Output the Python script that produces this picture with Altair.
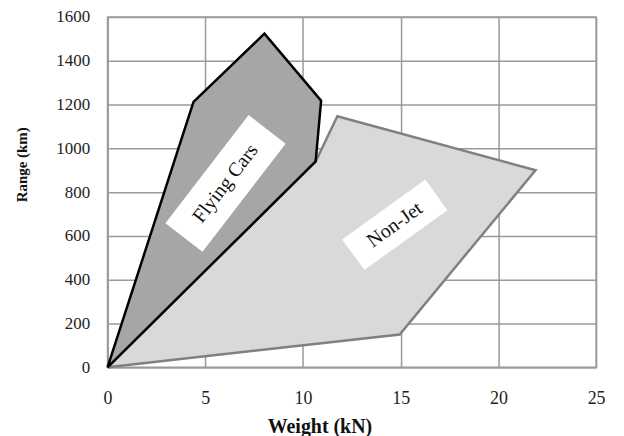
import altair as alt
import pandas as pd

# Envelope polygons (Weight kN, Range km), closed
flying_x = [0, 4.4, 8.03, 10.93, 10.65, 0]
flying_y = [0, 1212, 1524, 1218, 940, 0]
nonjet_x = [0, 14.95, 21.9, 11.76, 10.65, 0]
nonjet_y = [0, 150, 900, 1147, 940, 0]

x_ticks = [0, 5, 10, 15, 20, 25]
y_ticks = [0, 200, 400, 600, 800, 1000, 1200, 1400, 1600]

labels = ["Flying Cars", "Non-Jet"]
label_x = [6.04, 14.7]
label_y = [840, 651]

FONT = "Liberation Serif"

fc = pd.DataFrame({"w": flying_x, "r": flying_y, "i": range(len(flying_x))})
nj = pd.DataFrame({"w": nonjet_x, "r": nonjet_y, "i": range(len(nonjet_x))})

xs = alt.Scale(domain=[0, 25], nice=False)
ys = alt.Scale(domain=[0, 1600], nice=False)

xaxis = alt.Axis(values=x_ticks, title="Weight (kN)", ticks=False, labelPadding=22, format="d",
                 labelFontSize=18, labelFont=FONT, labelColor="#222",
                 titleFont=FONT, titleFontSize=20, titleFontWeight="bold", titleColor="#111",
                 titleX=213, titleY=60, titleAlign="center", titleBaseline="middle",
                 gridColor="#9a9a9a", gridWidth=1.5, domainColor="#9a9a9a", domainWidth=1.5,
                 labelFlush=False)
yaxis = alt.Axis(values=y_ticks, title="Range (km)", ticks=False, labelPadding=18, format="d",
                 labelFontSize=17, labelFont=FONT, labelColor="#222",
                 titleFont=FONT, titleFontSize=15, titleFontWeight="bold", titleColor="#111",
                 titleX=-86, titleY=148, titleAlign="center", titleBaseline="middle", titleAngle=270,
                 gridColor="#9a9a9a", gridWidth=1.5, domainColor="#9a9a9a", domainWidth=1.5,
                 labelFlush=False)

nonjet = alt.Chart(nj).mark_line(fill="#d9d9d9", stroke="#808080", strokeWidth=2.5,
                                 strokeJoin="miter").encode(
    x=alt.X("w:Q", scale=xs, axis=xaxis),
    y=alt.Y("r:Q", scale=ys, axis=yaxis),
    order="i:O",
)
flying = alt.Chart(fc).mark_line(fill="#a6a6a6", stroke="#000000", strokeWidth=2.5,
                                 strokeJoin="miter").encode(
    x=alt.X("w:Q", scale=xs),
    y=alt.Y("r:Q", scale=ys),
    order="i:O",
)

lab = pd.DataFrame({"t": labels, "w": label_x, "r": label_y})
fc_lab = lab[lab.t == "Flying Cars"]
nj_lab = lab[lab.t == "Non-Jet"]

box_fc = alt.Chart(fc_lab).mark_point(
    shape="M-1,-0.343L1,-0.343L1,0.343L-1,0.343Z", size=137 * 137, angle=307.6,
    filled=True, fill="white", opacity=1, strokeWidth=0).encode(
    x=alt.X("w:Q", scale=xs), y=alt.Y("r:Q", scale=ys))
box_nj = alt.Chart(nj_lab).mark_point(
    shape="M-1,-0.369L1,-0.369L1,0.369L-1,0.369Z", size=103 * 103, angle=324.2,
    filled=True, fill="white", opacity=1, strokeWidth=0).encode(
    x=alt.X("w:Q", scale=xs), y=alt.Y("r:Q", scale=ys))

txt_fc = alt.Chart(fc_lab).mark_text(font=FONT, fontSize=20, angle=307.6, color="#111",
                                     align="center", baseline="middle").encode(
    x=alt.X("w:Q", scale=xs), y=alt.Y("r:Q", scale=ys), text="t:N")
txt_nj = alt.Chart(nj_lab).mark_text(font=FONT, fontSize=20, angle=324.2, color="#111",
                                     align="center", baseline="middle").encode(
    x=alt.X("w:Q", scale=xs), y=alt.Y("r:Q", scale=ys), text="t:N")

chart = alt.layer(nonjet, flying, box_fc, box_nj, txt_fc, txt_nj).properties(
    width=491, height=352,
    autosize=alt.AutoSizeParams(type="none"),
    padding={"left": 100, "top": 8, "right": 20, "bottom": 68},
    background="white",
).configure_view(stroke="#9a9a9a", strokeWidth=1.5)

chart.save("out.html", embed_options={"renderer": "svg", "actions": False})
